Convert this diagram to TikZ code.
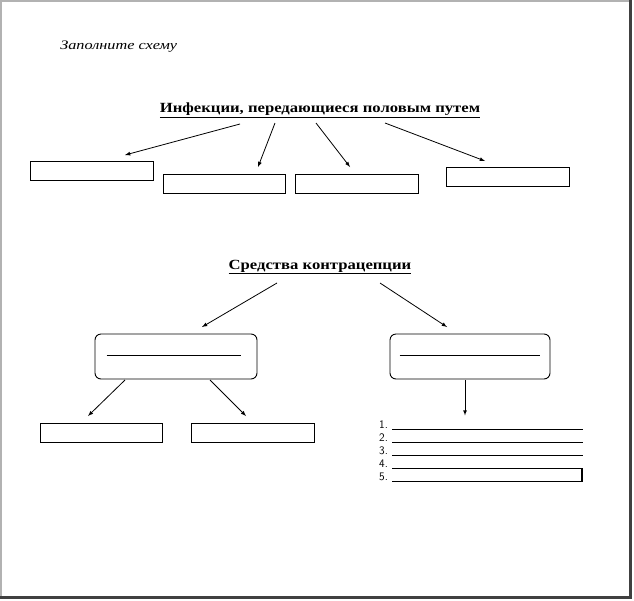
\documentclass[tikz,border=0pt]{standalone}
\usepackage{fontspec}
\setmainfont{Liberation Serif}
\begin{document}
\begin{tikzpicture}[x=1pt,y=-1pt,
 box/.style={draw,line width=0.9pt,inner sep=0},
 arr/.style={-latex,line width=0.8pt},
 ttl/.style={font=\bfseries\fontsize{14}{16}\selectfont,inner sep=1pt,xscale=1.19}]
\useasboundingbox (0,0) rectangle (634,600);
\fill[white] (0,0) rectangle (634,600);
\draw[gray!60,line width=2pt] (1,1) -- (1,597);
\draw[gray!60,line width=2pt] (0,1) -- (630,1);
\draw[black!75,line width=3pt] (630,0) -- (630,597) -- (0,597);
\node[font=\itshape\fontsize{13}{15}\selectfont,anchor=west,xscale=1.25,inner sep=0] (z) at (60,47) {Заполните схему};
\node[ttl] (t1) at (320,110) {\underline{Инфекции, передающиеся половым путем}};
\node[box,minimum width=123,minimum height=19] (b1) at (91.5,170.5) {};
\node[box,minimum width=122,minimum height=19] (b2) at (224,183.5) {};
\node[box,minimum width=123,minimum height=19] (b3) at (356.5,183.5) {};
\node[box,minimum width=123,minimum height=19] (b4) at (507.5,176.5) {};
\coordinate (a1) at (240,124); \coordinate (e1) at (125,155);
\coordinate (a2) at (275,123); \coordinate (e2) at (258,167);
\coordinate (a3) at (316,123); \coordinate (e3) at (350,167);
\coordinate (a4) at (385,123); \coordinate (e4) at (485,161);
\draw[arr] (a1) -- (e1); \draw[arr] (a2) -- (e2);
\draw[arr] (a3) -- (e3); \draw[arr] (a4) -- (e4);
\node[ttl] (t2) at (320,267) {\underline{Средства контрацепции}};
\node[box,rounded corners=6pt,minimum width=162,minimum height=45] (r1) at (176,356.5) {};
\node[box,rounded corners=6pt,minimum width=160,minimum height=45] (r2) at (470,356.5) {};
\draw[line width=0.6pt] ([xshift=12,yshift=1]r1.west) -- ([xshift=-16,yshift=1]r1.east);
\draw[line width=0.6pt] ([xshift=10,yshift=1]r2.west) -- ([xshift=-10,yshift=1]r2.east);
\coordinate (c1) at (277,283); \coordinate (c2) at (380,283);
\draw[arr] (c1) -- (202,327); \draw[arr] (c2) -- (447,327);
\node[box,minimum width=122,minimum height=19] (d1) at (101,432.5) {};
\node[box,minimum width=123,minimum height=19] (d2) at (252.5,432.5) {};
\draw[arr] (125,380) -- (88,416);
\draw[arr] (210,380) -- (246,416);
\draw[arr] (r2.south) ++(-5,1) -- ++(0,35) coordinate (e5);
\foreach \i/\y in {1/428,2/441,3/454,4/467,5/480}{
  \node[font=\sffamily\fontsize{11.5}{13}\selectfont,anchor=base west,inner sep=0] (n\i) at (379,\y) {\i.};
  \draw[line width=0.6pt] (392,\y+1) -- (583,\y+1);
}
\draw[line width=1.4pt] (582,468) -- (582,482);
\end{tikzpicture}
\end{document}
